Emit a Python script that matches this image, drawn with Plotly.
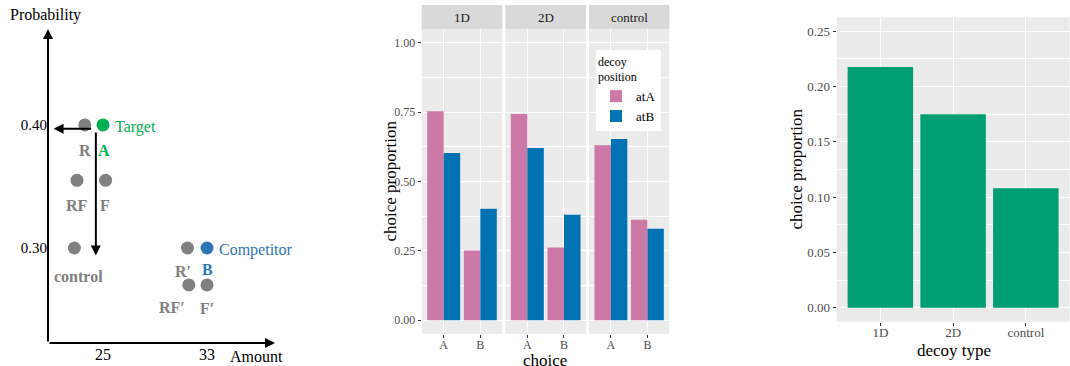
import plotly.graph_objects as go

W, H = 1070, 366
FONT = "Liberation Serif, Times New Roman, DejaVu Serif, serif"

# ---------------- Panel 1: schematic of options ----------------
pt_names = ["R", "A", "RF", "F", "control", "R′", "B", "RF′", "F′"]
pt_amount = [23.6, 25.0, 23.0, 25.2, 22.8, 31.5, 33.0, 31.6, 33.0]
pt_prob = [0.400, 0.400, 0.355, 0.355, 0.300, 0.300, 0.300, 0.270, 0.270]
pt_role = ["decoy", "target", "decoy", "decoy", "decoy", "decoy", "competitor", "decoy", "decoy"]
role_label = {"target": "Target", "competitor": "Competitor"}
prob_ticks = [0.30, 0.40]
amount_ticks = [25, 33]
# dimension arrows (tail amount, tail prob, head amount, head prob)
dim_arrows = [(24.2, 0.397, 21.2, 0.397), (24.45, 0.395, 24.45, 0.294)]

# ---------------- Panel 2: choice proportions by facet ----------------
facets = ["1D", "2D", "control"]
choices = ["A", "B"]
prop_atA = {"1D": [0.753, 0.251], "2D": [0.743, 0.262], "control": [0.631, 0.362]}
prop_atB = {"1D": [0.603, 0.402], "2D": [0.621, 0.380], "control": [0.653, 0.330]}
y2_ticks = [0.00, 0.25, 0.50, 0.75, 1.00]
y2_minor = [0.125, 0.375, 0.625, 0.875]

# ---------------- Panel 3: decoy choice proportion ----------------
decoy_types = ["1D", "2D", "control"]
decoy_prop = [0.2177, 0.175, 0.108]
y3_ticks = [0.00, 0.05, 0.10, 0.15, 0.20, 0.25]
y3_minor = [0.025, 0.075, 0.125, 0.175, 0.225]

# ---------------- styles ----------------
role_color = {"decoy": "#808080", "target": "#00B050", "competitor": "#2E75B6"}
pos_color = {"atA": "#CC79A7", "atB": "#0072B2"}
green = "#009E73"
label_shift = {"R": (0, -26), "A": (1, -26), "RF": (0, -25), "F": (-1, -25),
               "control": (4, -28), "R′": (-5, -23), "B": (0, -21),
               "RF′": (-17, -23), "F′": (0, -24)}


def px(x):
    return x / W


def py(y):
    return 1 - y / H


def paper_text(x, y, text, size, color="black", angle=0, xanchor="center", yanchor="middle", **kw):
    return dict(x=px(x), y=py(y), xref="paper", yref="paper", text=text, showarrow=False,
                xanchor=xanchor, yanchor=yanchor, textangle=angle,
                font=dict(family=FONT, size=size, color=color), **kw)


fig = go.Figure()

# Panel 1 points
fig.add_trace(go.Scatter(
    x=pt_amount, y=pt_prob, mode="markers", xaxis="x", yaxis="y",
    marker=dict(size=13, color=[role_color[r] for r in pt_role]),
    showlegend=False, hoverinfo="skip"))

annotations = []
shapes = []
for n, a, p, r in zip(pt_names, pt_amount, pt_prob, pt_role):
    dx, dy = label_shift[n]
    annotations.append(dict(x=a, y=p, xref="x", yref="y", text="<b>%s</b>" % n,
                            showarrow=False, xshift=dx, yshift=dy,
                            xanchor="center", yanchor="middle",
                            font=dict(family=FONT, size=16, color=role_color[r])))
    if r in role_label:
        annotations.append(dict(x=a, y=p, xref="x", yref="y", text=role_label[r],
                                showarrow=False, xanchor="left", yanchor="middle",
                                xshift=10, yshift=-2,
                                font=dict(family=FONT, size=16, color=role_color[r])))
# axis arrows
annotations.append(dict(x=0, y=1, ax=0, ay=0, xref="x domain", yref="y domain",
                        axref="x domain", ayref="y domain", text="", showarrow=True,
                        arrowhead=2, arrowsize=1, arrowwidth=2, arrowcolor="black"))
annotations.append(dict(x=1, y=0, ax=0, ay=0, xref="x domain", yref="y domain",
                        axref="x domain", ayref="y domain", text="", showarrow=True,
                        arrowhead=2, arrowsize=1, arrowwidth=2, arrowcolor="black"))
for tx, ty, hx, hy in dim_arrows:
    annotations.append(dict(x=hx, y=hy, ax=tx, ay=ty, xref="x", yref="y", axref="x", ayref="y",
                            text="", showarrow=True, arrowhead=2, arrowsize=1,
                            arrowwidth=2, arrowcolor="black"))
annotations.append(paper_text(8, 15, "Probability", 16, xanchor="left"))
annotations.append(paper_text(228, 356, "Amount", 16, xanchor="left"))

# Panel 2 bars
facet_dom = [(421.7, 502.3), (505.3, 586.0), (589.0, 669.3)]
for i, f in enumerate(facets):
    k = i + 2
    for pos, vals in (("atA", prop_atA[f]), ("atB", prop_atB[f])):
        fig.add_trace(go.Bar(
            x=choices, y=vals, name=pos, marker=dict(color=pos_color[pos], line=dict(width=0)),
            xaxis="x%d" % k, yaxis="y%d" % k, legendgroup=pos, showlegend=(i == 0),
            hoverinfo="skip"))
    d0, d1 = facet_dom[i]
    shapes.append(dict(type="rect", xref="paper", yref="paper", x0=px(d0), x1=px(d1),
                       y0=py(29), y1=py(5), fillcolor="#D9D9D9", line=dict(width=0)))
    annotations.append(paper_text((d0 + d1) / 2, 17, f, 13, color="#1A1A1A"))

# Panel 3 bars
fig.add_trace(go.Bar(x=decoy_types, y=decoy_prop, marker=dict(color=green, line=dict(width=0)),
                     xaxis="x5", yaxis="y5", showlegend=False, hoverinfo="skip"))

# panel backgrounds
for k in (2, 3, 4, 5):
    shapes.append(dict(type="rect", xref="x%d domain" % k, yref="y%d domain" % k,
                       x0=0, x1=1, y0=0, y1=1, fillcolor="#EBEBEB",
                       line=dict(width=0), layer="below"))

# axis titles
annotations.append(paper_text(390, 181.5, "choice proportion", 17, angle=-90))
annotations.append(paper_text(545, 366, "choice", 17, yanchor="bottom", yshift=-6))
annotations.append(paper_text(796, 169.5, "choice proportion", 17, angle=-90))
annotations.append(paper_text(954, 350, "decoy type", 17))

tickfont2 = dict(family=FONT, size=12, color="#4D4D4D")
tickfont3 = dict(family=FONT, size=13, color="#4D4D4D")

layout = dict(
    width=W, height=H, margin=dict(l=0, r=0, t=0, b=0),
    paper_bgcolor="white", plot_bgcolor="rgba(0,0,0,0)",
    barmode="group", bargap=0.1, bargroupgap=0,
    font=dict(family=FONT),
    showlegend=True,
    legend=dict(x=px(596), y=py(50), xanchor="left", yanchor="top",
                bgcolor="white", borderwidth=0, itemwidth=30,
                title=dict(text="decoy<br>position", font=dict(family=FONT, size=12, color="black")),
                font=dict(family=FONT, size=13, color="black"), tracegroupgap=0),
    xaxis=dict(domain=[px(48), px(275)], range=[20.77, 38.23], tickvals=amount_ticks,
               ticks="", showgrid=False, zeroline=False, showline=False,
               tickfont=dict(family=FONT, size=16, color="black"), anchor="y"),
    yaxis=dict(domain=[py(343), py(29)], range=[0.2228, 0.478], tickvals=prob_ticks,
               ticktext=["%.2f" % v for v in prob_ticks],
               ticks="", showgrid=False, zeroline=False, showline=False,
               tickfont=dict(family=FONT, size=15, color="black"), anchor="x"),
    annotations=annotations, shapes=shapes,
)

for i in range(3):
    k = i + 2
    d0, d1 = facet_dom[i]
    layout["xaxis%d" % k] = dict(domain=[px(d0), px(d1)], type="category", range=[-0.6, 1.6],
                                 anchor="y%d" % k, showgrid=True, gridcolor="white", gridwidth=1.2,
                                 ticks="outside", ticklen=3, tickcolor="#333333", tickwidth=1,
                                 ticklabelstandoff=-3,
                                 tickfont=tickfont2, zeroline=False, showline=False)
    layout["yaxis%d" % k] = dict(domain=[py(334), py(29)], range=[-0.05, 1.05],
                                 tickvals=y2_ticks, tickformat=".2f", anchor="x%d" % k,
                                 showgrid=True, gridcolor="white", gridwidth=1.2,
                                 minor=dict(tickvals=y2_minor, showgrid=True, gridcolor="white",
                                            gridwidth=0.6, ticks=""),
                                 ticks="outside" if i == 0 else "", ticklen=3,
                                 tickcolor="#333333", tickwidth=1,
                                 showticklabels=(i == 0), tickfont=tickfont2,
                                 zeroline=False, showline=False)

layout["xaxis5"] = dict(domain=[px(836.7), px(1069.5)], type="category", range=[-0.6, 2.6],
                        anchor="y5", showgrid=True, gridcolor="white", gridwidth=1.2,
                        ticks="outside", ticklen=3, tickcolor="#333333", tickwidth=1,
                        ticklabelstandoff=-4,
                        tickfont=tickfont3, zeroline=False, showline=False)
layout["yaxis5"] = dict(domain=[py(321.7), py(17.3)], range=[-0.0125, 0.2625],
                        tickvals=y3_ticks, tickformat=".2f", anchor="x5",
                        showgrid=True, gridcolor="white", gridwidth=1.2,
                        minor=dict(tickvals=y3_minor, showgrid=True, gridcolor="white",
                                   gridwidth=0.6, ticks=""),
                        ticks="outside", ticklen=3, tickcolor="#333333", tickwidth=1,
                        tickfont=tickfont3, zeroline=False, showline=False)

fig.update_layout(**layout)
fig.write_html("out.html")
